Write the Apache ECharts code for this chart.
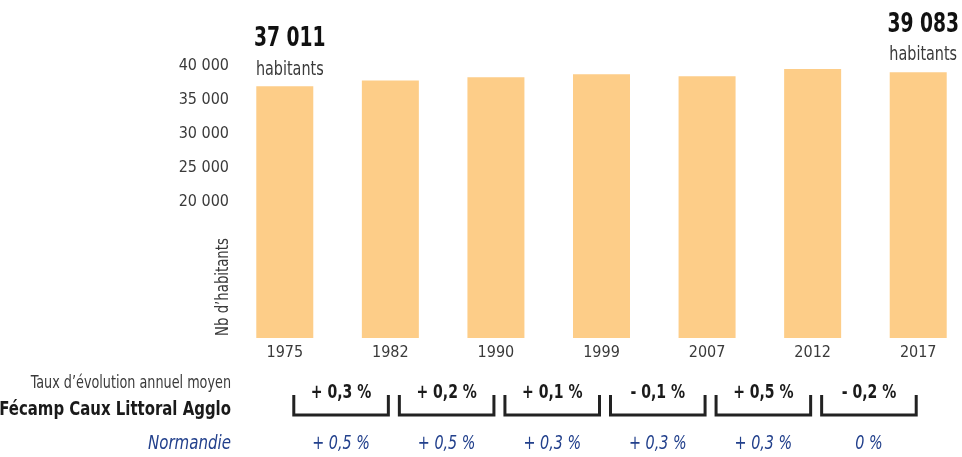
<!DOCTYPE html>
<html>
<head>
<meta charset="utf-8">
<script src="https://cdn.jsdelivr.net/npm/echarts@6/dist/echarts.min.js"></script>
<style>
html, body { margin: 0; padding: 0; background: #fff; }
#app { width: 962px; height: 457px; }
</style>
</head>
<body>
<div id="app"></div>
<script>
var years = ['1975', '1982', '1990', '1999', '2007', '2012', '2017'];
var population = [37011, 37850, 38350, 38800, 38500, 39550, 39083];
var ratesAgglo = ['+ 0,3 %', '+ 0,2 %', '+ 0,1 %', '- 0,1 %', '+ 0,5 %', '- 0,2 %'];
var ratesNormandie = ['+ 0,5 %', '+ 0,5 %', '+ 0,3 %', '+ 0,3 %', '+ 0,3 %', '0 %'];

var FONT = "'Liberation Sans Narrow', 'DejaVu Sans Condensed', sans-serif";
var BLUE = '#22408c';

function fmt(v) {
    return String(v).replace(/\B(?=(\d{3})+(?!\d))/g, ' ');
}

// texte compressé (la police d'origine est condensée)
function label(text, x, y, font, fill, align, sx, rot) {
    return {
        type: 'text',
        x: x,
        y: y,
        rotation: rot || 0,
        scaleX: sx,
        style: {
            text: text,
            font: font,
            fill: fill,
            align: align,
            verticalAlign: 'middle'
        }
    };
}

window.onload = function() {
    var myChart = echarts.init(document.getElementById('app'));
    var last = population.length - 1;

    var option = {
        animation: false,
        textStyle: { fontFamily: FONT },
        grid: {
            left: 232,
            top: 66,
            width: 739,
            height: 272,
            outerBoundsMode: 'none'
        },
        xAxis: {
            type: 'category',
            data: years,
            axisLine: { show: false },
            axisTick: { show: false },
            axisLabel: {
                margin: 7,
                fontSize: 16,
                color: '#3a3a3a',
                fontFamily: FONT
            }
        },
        yAxis: {
            type: 'value',
            min: 0,
            max: 40000,
            interval: 5000,
            axisLine: { show: false },
            axisTick: { show: false },
            splitLine: { show: false },
            axisLabel: {
                margin: 3,
                fontSize: 16,
                color: '#3a3a3a',
                fontFamily: FONT,
                formatter: function(v) {
                    return v >= 20000 ? fmt(v) : '';
                }
            }
        },
        graphic: [
            label('Nb d’habitants', 223, 287, '18px ' + FONT, '#3a3a3a', 'center', 0.82, Math.PI / 2),
            label('Taux d’évolution annuel moyen', 231, 383, '18px ' + FONT, '#3a3a3a', 'right', 0.79),
            label('Fécamp Caux Littoral Agglo', 231, 410, 'bold 20px ' + FONT, '#1a1a1a', 'right', 0.83),
            label('Normandie', 231, 444, 'italic 19px ' + FONT, BLUE, 'right', 0.88)
        ],
        series: [{
            type: 'bar',
            data: population,
            barWidth: 57,
            itemStyle: { color: '#FDCD88' }
        }, {
            // effectifs du premier et du dernier recensement
            type: 'custom',
            silent: true,
            z: 5,
            data: [[0, population[0]], [last, population[last]]],
            renderItem: function(params, api) {
                var p = api.coord([api.value(0), api.value(1)]);
                var x = p[0] + 5;
                return {
                    type: 'group',
                    children: [
                        label(fmt(api.value(1)), x, p[1] - 47, 'bold 26px ' + FONT, '#111', 'center', 0.8),
                        label('habitants', x, p[1] - 17, '20px ' + FONT, '#3a3a3a', 'center', 0.8)
                    ]
                };
            }
        }, {
            type: 'custom',
            silent: true,
            data: ratesAgglo.map(function(r, i) { return [i, 0]; }),
            renderItem: function(params, api) {
                var i = api.value(0);
                var p0 = api.coord([i, 0]);
                var p1 = api.coord([i + 1, 0]);
                var base = p0[1];
                var x1 = p0[0] + 9;
                var x2 = p1[0] - 2;
                var mid = (x1 + x2) / 2;
                return {
                    type: 'group',
                    children: [{
                        type: 'polyline',
                        shape: {
                            points: [[x1, base + 57], [x1, base + 77], [x2, base + 77], [x2, base + 57]]
                        },
                        style: { stroke: '#222', lineWidth: 3, fill: null }
                    },
                    label(ratesAgglo[params.dataIndex], mid, base + 55, 'bold 20px ' + FONT, '#1a1a1a', 'center', 0.78),
                    label(ratesNormandie[params.dataIndex], mid, base + 106, 'italic 19px ' + FONT, BLUE, 'center', 0.84)
                    ]
                };
            }
        }]
    };
    myChart.setOption(option);
};
</script>
</body>
</html>
